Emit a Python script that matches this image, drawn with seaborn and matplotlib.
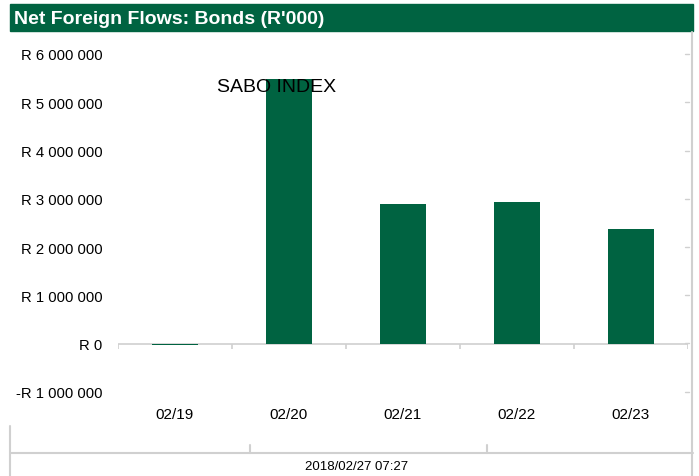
import matplotlib
matplotlib.use("Agg")
import matplotlib.pyplot as plt
import seaborn as sns
import numpy as np
import pandas as pd
from matplotlib.lines import Line2D
from matplotlib.patches import Rectangle

categories = ["02/19", "02/20", "02/21", "02/22", "02/23"]
values = [-30000, 5480000, 2900000, 2930000, 2380000]
ytick_values = [-1000000, 0, 1000000, 2000000, 3000000, 4000000, 5000000, 6000000]

GREEN = "#006341"
GRAY = "#d0d0d0"

sns.set_theme(style="white")
plt.rcParams['font.family'] = ['Liberation Sans', 'DejaVu Sans']

W, H = 699, 477
fig = plt.figure(figsize=(W / 100, H / 100), dpi=100)

def fx(px):
    return px / W

def fy(py):
    return 1 - py / H

ax = fig.add_axes([fx(118), fy(393), fx(688) - fx(118), fy(55) - fy(393)])

df = pd.DataFrame({"cat": categories, "val": values})
sns.barplot(data=df, x="cat", y="val", color=GREEN, width=0.4, saturation=1,
            edgecolor=GREEN, linewidth=0, ax=ax)

ax.set_xlim(-0.5, len(categories) - 0.5)
ax.set_ylim(-1000000, 6000000)
ax.set_yticks(ytick_values)

def fmt(v):
    s = f"{abs(int(v)):,}".replace(",", " ")
    return ("-R " if v < 0 else "R ") + s

ax.set_yticklabels([fmt(v) for v in ytick_values], fontsize=10.7, color="#000000")
ax.tick_params(axis="y", length=0, pad=11)
ax.tick_params(axis="x", length=0, pad=11, labelsize=11, labelcolor="#000000")
ax.set_xlabel("")
ax.set_ylabel("")
for s in ax.spines.values():
    s.set_visible(False)

# zero line with category boundary ticks
ax.axhline(0, color=GRAY, lw=1.2, zorder=0)
bounds = np.arange(len(categories) + 1) - 0.5
ax.vlines(bounds, -110000, 0, color=GRAY, lw=1.2, zorder=0)

ax.text((277 - 118) / 570, (393 - 88) / 338, "SABO INDEX", transform=ax.transAxes,
        fontsize=14, ha="center", va="center", color="#000000", zorder=5)

# Title bar
fig.add_artist(Rectangle((fx(10), fy(32)), fx(693) - fx(10), fy(5) - fy(32),
                         transform=fig.transFigure, color=GREEN, zorder=0))
fig.text(fx(14), fy(19.5), "Net Foreign Flows: Bonds (R'000)", color="white",
         fontsize=14, fontweight="bold", va="center", ha="left")

# Right-side decoration
fig.add_artist(Line2D([fx(692), fx(692)], [fy(33), fy(477)], color=GRAY, lw=1.5))
for py in [55, 103, 152, 200, 248, 296, 344, 393]:
    fig.add_artist(Line2D([fx(685), fx(689)], [fy(py), fy(py)], color=GRAY, lw=1))

# Bottom footer
fig.add_artist(Line2D([fx(10), fx(693)], [fy(454), fy(454)], color=GRAY, lw=1.5))
fig.add_artist(Line2D([fx(10), fx(10)], [fy(427), fy(477)], color=GRAY, lw=1.5))
for px in [250, 487]:
    fig.add_artist(Line2D([fx(px), fx(px)], [fy(446), fy(454)], color=GRAY, lw=1.5))
fig.text(fx(357), fy(467), "2018/02/27 07:27", fontsize=9.5, ha="center", va="center",
         color="#000000")

fig.savefig("out.png", dpi=100)
